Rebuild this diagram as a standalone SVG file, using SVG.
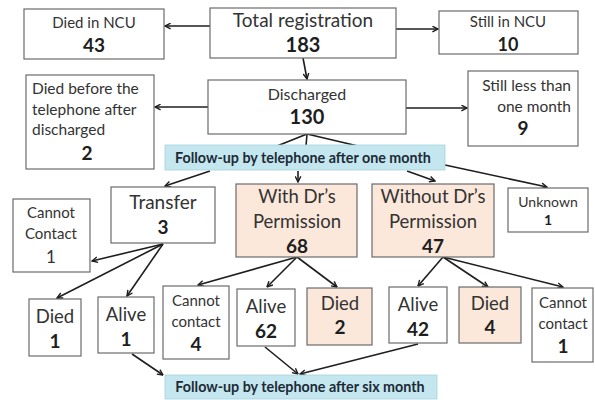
<svg xmlns="http://www.w3.org/2000/svg" width="595" height="400" viewBox="0 0 595 400">
<defs>
<style>
.box{fill:#fff;stroke:#6b6b6b;stroke-width:1.2}
.pe{fill:#fbe8da;stroke:#6b6b6b;stroke-width:1.2}
.ban{fill:#c3e6ef;stroke:#a9d3df;stroke-width:0.8}
text{font-family:Lato,"Liberation Sans",sans-serif;fill:#333;text-anchor:middle}
.b{font-weight:bold;fill:#1e1e1e}
.bt{font-weight:bold;fill:#1d2a36;font-size:14.3px}
.c line{stroke:#1e1e1e;stroke-width:1.6}
.c .a{marker-end:url(#ah)}
</style>
<marker id="ah" viewBox="0 0 10 10" refX="9" refY="5" markerWidth="7" markerHeight="7" orient="auto" markerUnits="userSpaceOnUse">
<path d="M1,1 L9,5 L1,9" fill="none" stroke="#1e1e1e" stroke-width="2"/>
</marker>
</defs>

<g class="c" id="connectors">
<line class="a" x1="210" y1="26" x2="165" y2="26"/>
<line class="a" x1="396" y1="29" x2="438" y2="29"/>
<line class="a" x1="303" y1="58" x2="307" y2="79"/>
<line class="a" x1="208" y1="107" x2="155" y2="107"/>
<line class="a" x1="406" y1="108" x2="467" y2="108"/>
<line x1="307" y1="134" x2="277" y2="146"/>
<line x1="307" y1="134" x2="306" y2="146"/>
<line x1="307" y1="134" x2="358" y2="146"/>
<line class="a" x1="210" y1="171" x2="165" y2="186"/>
<line class="a" x1="298" y1="171" x2="298" y2="182"/>
<line class="a" x1="407" y1="171" x2="435" y2="181"/>
<line class="a" x1="445" y1="165" x2="547" y2="187"/>
<line class="a" x1="163" y1="244" x2="92" y2="261"/>
<line class="a" x1="163" y1="244" x2="57" y2="298"/>
<line class="a" x1="163" y1="244" x2="127" y2="296"/>
<line class="a" x1="297" y1="257" x2="198" y2="285"/>
<line class="a" x1="297" y1="257" x2="267" y2="287"/>
<line class="a" x1="297" y1="257" x2="337" y2="287"/>
<line class="a" x1="443" y1="257" x2="418" y2="286"/>
<line class="a" x1="443" y1="257" x2="488" y2="287"/>
<line class="a" x1="443" y1="257" x2="563" y2="287"/>
<line class="a" x1="132" y1="354" x2="163" y2="375"/>
<line class="a" x1="265" y1="347" x2="298" y2="374"/>
<line class="a" x1="418" y1="344" x2="300" y2="374"/>
</g>

<g id="died-ncu">
<rect class="box" x="24" y="9" width="140" height="50"/>
<text x="94" y="28" font-size="15">Died in NCU</text>
<text class="b" x="94" y="52" font-size="19">43</text>
</g>
<g id="total">
<rect class="box" x="210" y="8" width="186" height="50"/>
<text x="303" y="27" font-size="19">Total registration</text>
<text class="b" x="303" y="52" font-size="20">183</text>
</g>
<g id="still-ncu">
<rect class="box" x="439" y="11" width="139" height="43"/>
<text x="508" y="27" font-size="15">Still in NCU</text>
<text class="b" x="508" y="51" font-size="18">10</text>
</g>
<g id="discharged">
<rect class="box" x="208" y="80" width="198" height="54"/>
<text x="307" y="100" font-size="16">Discharged</text>
<text class="b" x="307" y="124" font-size="20">130</text>
</g>
<g id="died-before">
<rect class="box" x="26" y="75" width="128" height="94"/>
<text x="32" y="94" font-size="15.5" style="text-anchor:start">Died before the</text>
<text x="32" y="115" font-size="15.5" style="text-anchor:start">telephone after</text>
<text x="32" y="135" font-size="15.5" style="text-anchor:start">discharged</text>
<text class="b" x="87" y="160" font-size="19">2</text>
</g>
<g id="still-less">
<rect class="box" x="468" y="71" width="110" height="75"/>
<text x="571" y="91" font-size="15.5" style="text-anchor:end">Still less than</text>
<text x="571" y="112" font-size="15.5" style="text-anchor:end">one month</text>
<text class="b" x="523" y="135" font-size="19">9</text>
</g>
<g id="banner-one">
<rect class="ban" x="165" y="145" width="280" height="25"/>
<text class="bt" x="303" y="162.5">Follow-up by telephone after one month</text>
</g>
<g id="transfer">
<rect class="box" x="111" y="187" width="104" height="56"/>
<text x="163" y="209" font-size="19">Transfer</text>
<text class="b" x="163" y="234" font-size="19">3</text>
</g>
<g id="cannot-contact-a">
<rect class="box" x="13" y="199" width="77" height="73"/>
<text x="51" y="218" font-size="15">Cannot</text>
<text x="51" y="239" font-size="15">Contact</text>
<text x="51" y="263" font-size="17">1</text>
</g>
<g id="with-dr">
<rect class="pe" x="236" y="184" width="121" height="73"/>
<text x="297" y="203" font-size="18.5">With Dr’s</text>
<text x="297" y="228" font-size="18.5">Permission</text>
<text class="b" x="297" y="253" font-size="19">68</text>
</g>
<g id="without-dr">
<rect class="pe" x="372" y="184" width="122" height="73"/>
<text x="433" y="203" font-size="18.5">Without Dr’s</text>
<text x="433" y="228" font-size="18.5">Permission</text>
<text class="b" x="433" y="253" font-size="19">47</text>
</g>
<g id="unknown">
<rect class="box" x="508" y="188" width="80" height="44"/>
<text x="548" y="207" font-size="14">Unknown</text>
<text class="b" x="548" y="225" font-size="14">1</text>
</g>
<g id="died-1">
<rect class="box" x="29" y="299" width="52" height="57"/>
<text x="55" y="323" font-size="18.5">Died</text>
<text class="b" x="55" y="348" font-size="19">1</text>
</g>
<g id="alive-1">
<rect class="box" x="98" y="297" width="56" height="56"/>
<text x="126" y="321" font-size="18.5">Alive</text>
<text class="b" x="126" y="346" font-size="19">1</text>
</g>
<g id="cannot-contact-4">
<rect class="box" x="163" y="286" width="66" height="73"/>
<text x="196" y="306" font-size="15">Cannot</text>
<text x="196" y="327" font-size="15">contact</text>
<text class="b" x="196" y="351" font-size="19">4</text>
</g>
<g id="alive-62">
<rect class="box" x="237" y="289" width="58" height="57"/>
<text x="266" y="313" font-size="18.5">Alive</text>
<text class="b" x="266" y="338" font-size="19">62</text>
</g>
<g id="died-2">
<rect class="pe" x="307" y="288" width="65" height="57"/>
<text x="340" y="310" font-size="18.5">Died</text>
<text class="b" x="340" y="334" font-size="19">2</text>
</g>
<g id="alive-42">
<rect class="box" x="389" y="287" width="58" height="56"/>
<text x="418" y="311" font-size="18.5">Alive</text>
<text class="b" x="418" y="336" font-size="19">42</text>
</g>
<g id="died-4">
<rect class="pe" x="459" y="287" width="62" height="56"/>
<text x="490" y="310" font-size="18.5">Died</text>
<text class="b" x="490" y="334" font-size="19">4</text>
</g>
<g id="cannot-contact-1">
<rect class="box" x="532" y="288" width="61" height="74"/>
<text x="563" y="308" font-size="15">Cannot</text>
<text x="563" y="329" font-size="15">contact</text>
<text class="b" x="563" y="353" font-size="19">1</text>
</g>
<g id="banner-six">
<rect class="ban" x="165" y="375" width="272" height="24"/>
<text class="bt" x="300" y="392">Follow-up by telephone after six month</text>
</g>
</svg>
